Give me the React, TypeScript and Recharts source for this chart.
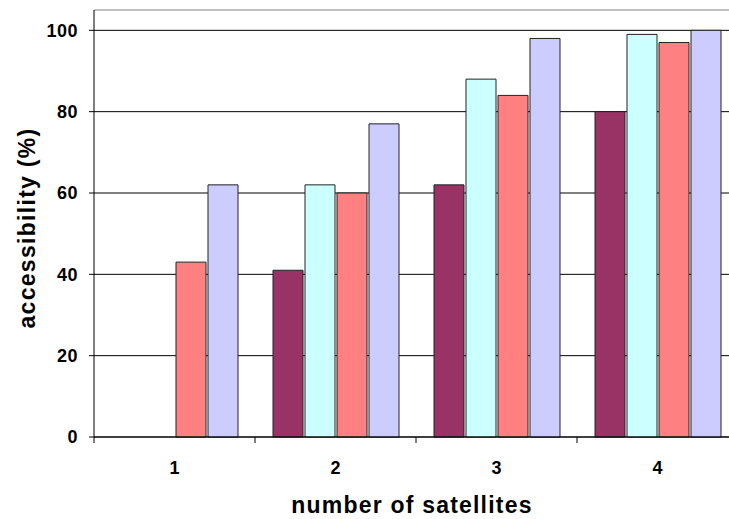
import React from "react";
import { Bar, BarChart, CartesianGrid, ReferenceLine, XAxis, YAxis } from "recharts";

const satellites = ["1", "2", "3", "4"];
const seriesA = [null, 41, 62, 80];
const seriesB = [null, 62, 88, 99];
const seriesC = [43, 60, 84, 97];
const seriesD = [62, 77, 98, 100];
const yTicks = [0, 20, 40, 60, 80, 100];

const data = satellites.map((s, i) => ({
  name: s,
  a: seriesA[i],
  b: seriesB[i],
  c: seriesC[i],
  d: seriesD[i]
}));

const font = "'Liberation Sans', Arial, sans-serif";
const CHART_W = 738;
const PLOT_LEFT = 94;

function XTick(props: any) {
  const { x, y, payload } = props;
  const half = (CHART_W - PLOT_LEFT) / satellites.length / 2;
  return (
    <g>
      <line x1={x - half} x2={x - half} y1={y} y2={y + 6} stroke="#000" />
      <text x={x} y={y + 37} textAnchor="middle" fontFamily={font} fontWeight="bold" fontSize={18} fill="#000">
        {payload.value}
      </text>
    </g>
  );
}

export default function App() {
  return (
    <div style={{ position: "absolute", left: 0, top: 0, width: 729, height: 519, overflow: "hidden", background: "#fff" }}>
      <BarChart
        width={CHART_W}
        height={519}
        data={data}
        margin={{ top: 10, right: 0, left: 0, bottom: 0 }}
        barCategoryGap={18}
        barGap={2}
      >
        <CartesianGrid vertical={false} stroke="#000" strokeWidth={1} />
        <ReferenceLine y={105} stroke="#c0c0c0" strokeWidth={2} />
        <XAxis
          dataKey="name"
          height={82}
          tickLine={false}
          tickSize={0}
          tickMargin={0}
          axisLine={{ stroke: "#000" }}
          tick={<XTick />}
          interval={0}
          label={{
            content: (p: any) => {
              const vb = p.viewBox;
              return (
                <text
                  x={412}
                  y={vb.y + vb.height - 6}
                  textAnchor="middle"
                  fontFamily={font}
                  fontWeight="bold"
                  fontSize={23}
                  letterSpacing={1.2}
                  fill="#000"
                >
                  number of satellites
                </text>
              );
            }
          }}
        />
        <YAxis
          width={PLOT_LEFT}
          domain={[0, 105]}
          ticks={yTicks}
          interval={0}
          tickSize={5}
          tickMargin={11}
          axisLine={{ stroke: "#000" }}
          tickLine={{ stroke: "#000" }}
          tick={{ fontFamily: font, fontWeight: "bold", fontSize: 18, fill: "#000", letterSpacing: 0.5 }}
          label={{
            content: () => {
              const cx = 27;
              const cy = 228;
              return (
                <text
                  x={cx}
                  y={cy}
                  transform={`rotate(-90, ${cx}, ${cy})`}
                  textAnchor="middle"
                  dominantBaseline="central"
                  fontFamily={font}
                  fontWeight="bold"
                  fontSize={23}
                  letterSpacing={1.3}
                  fill="#000"
                >
                  accessibility (%)
                </text>
              );
            }
          }}
        />
        <Bar dataKey="a" fill="#993366" stroke="#222" strokeWidth={1} isAnimationActive={false} />
        <Bar dataKey="b" fill="#CCFFFF" stroke="#222" strokeWidth={1} isAnimationActive={false} />
        <Bar dataKey="c" fill="#FF8080" stroke="#222" strokeWidth={1} isAnimationActive={false} />
        <Bar dataKey="d" fill="#CCCCFF" stroke="#222" strokeWidth={1} isAnimationActive={false} />
      </BarChart>
    </div>
  );
}
